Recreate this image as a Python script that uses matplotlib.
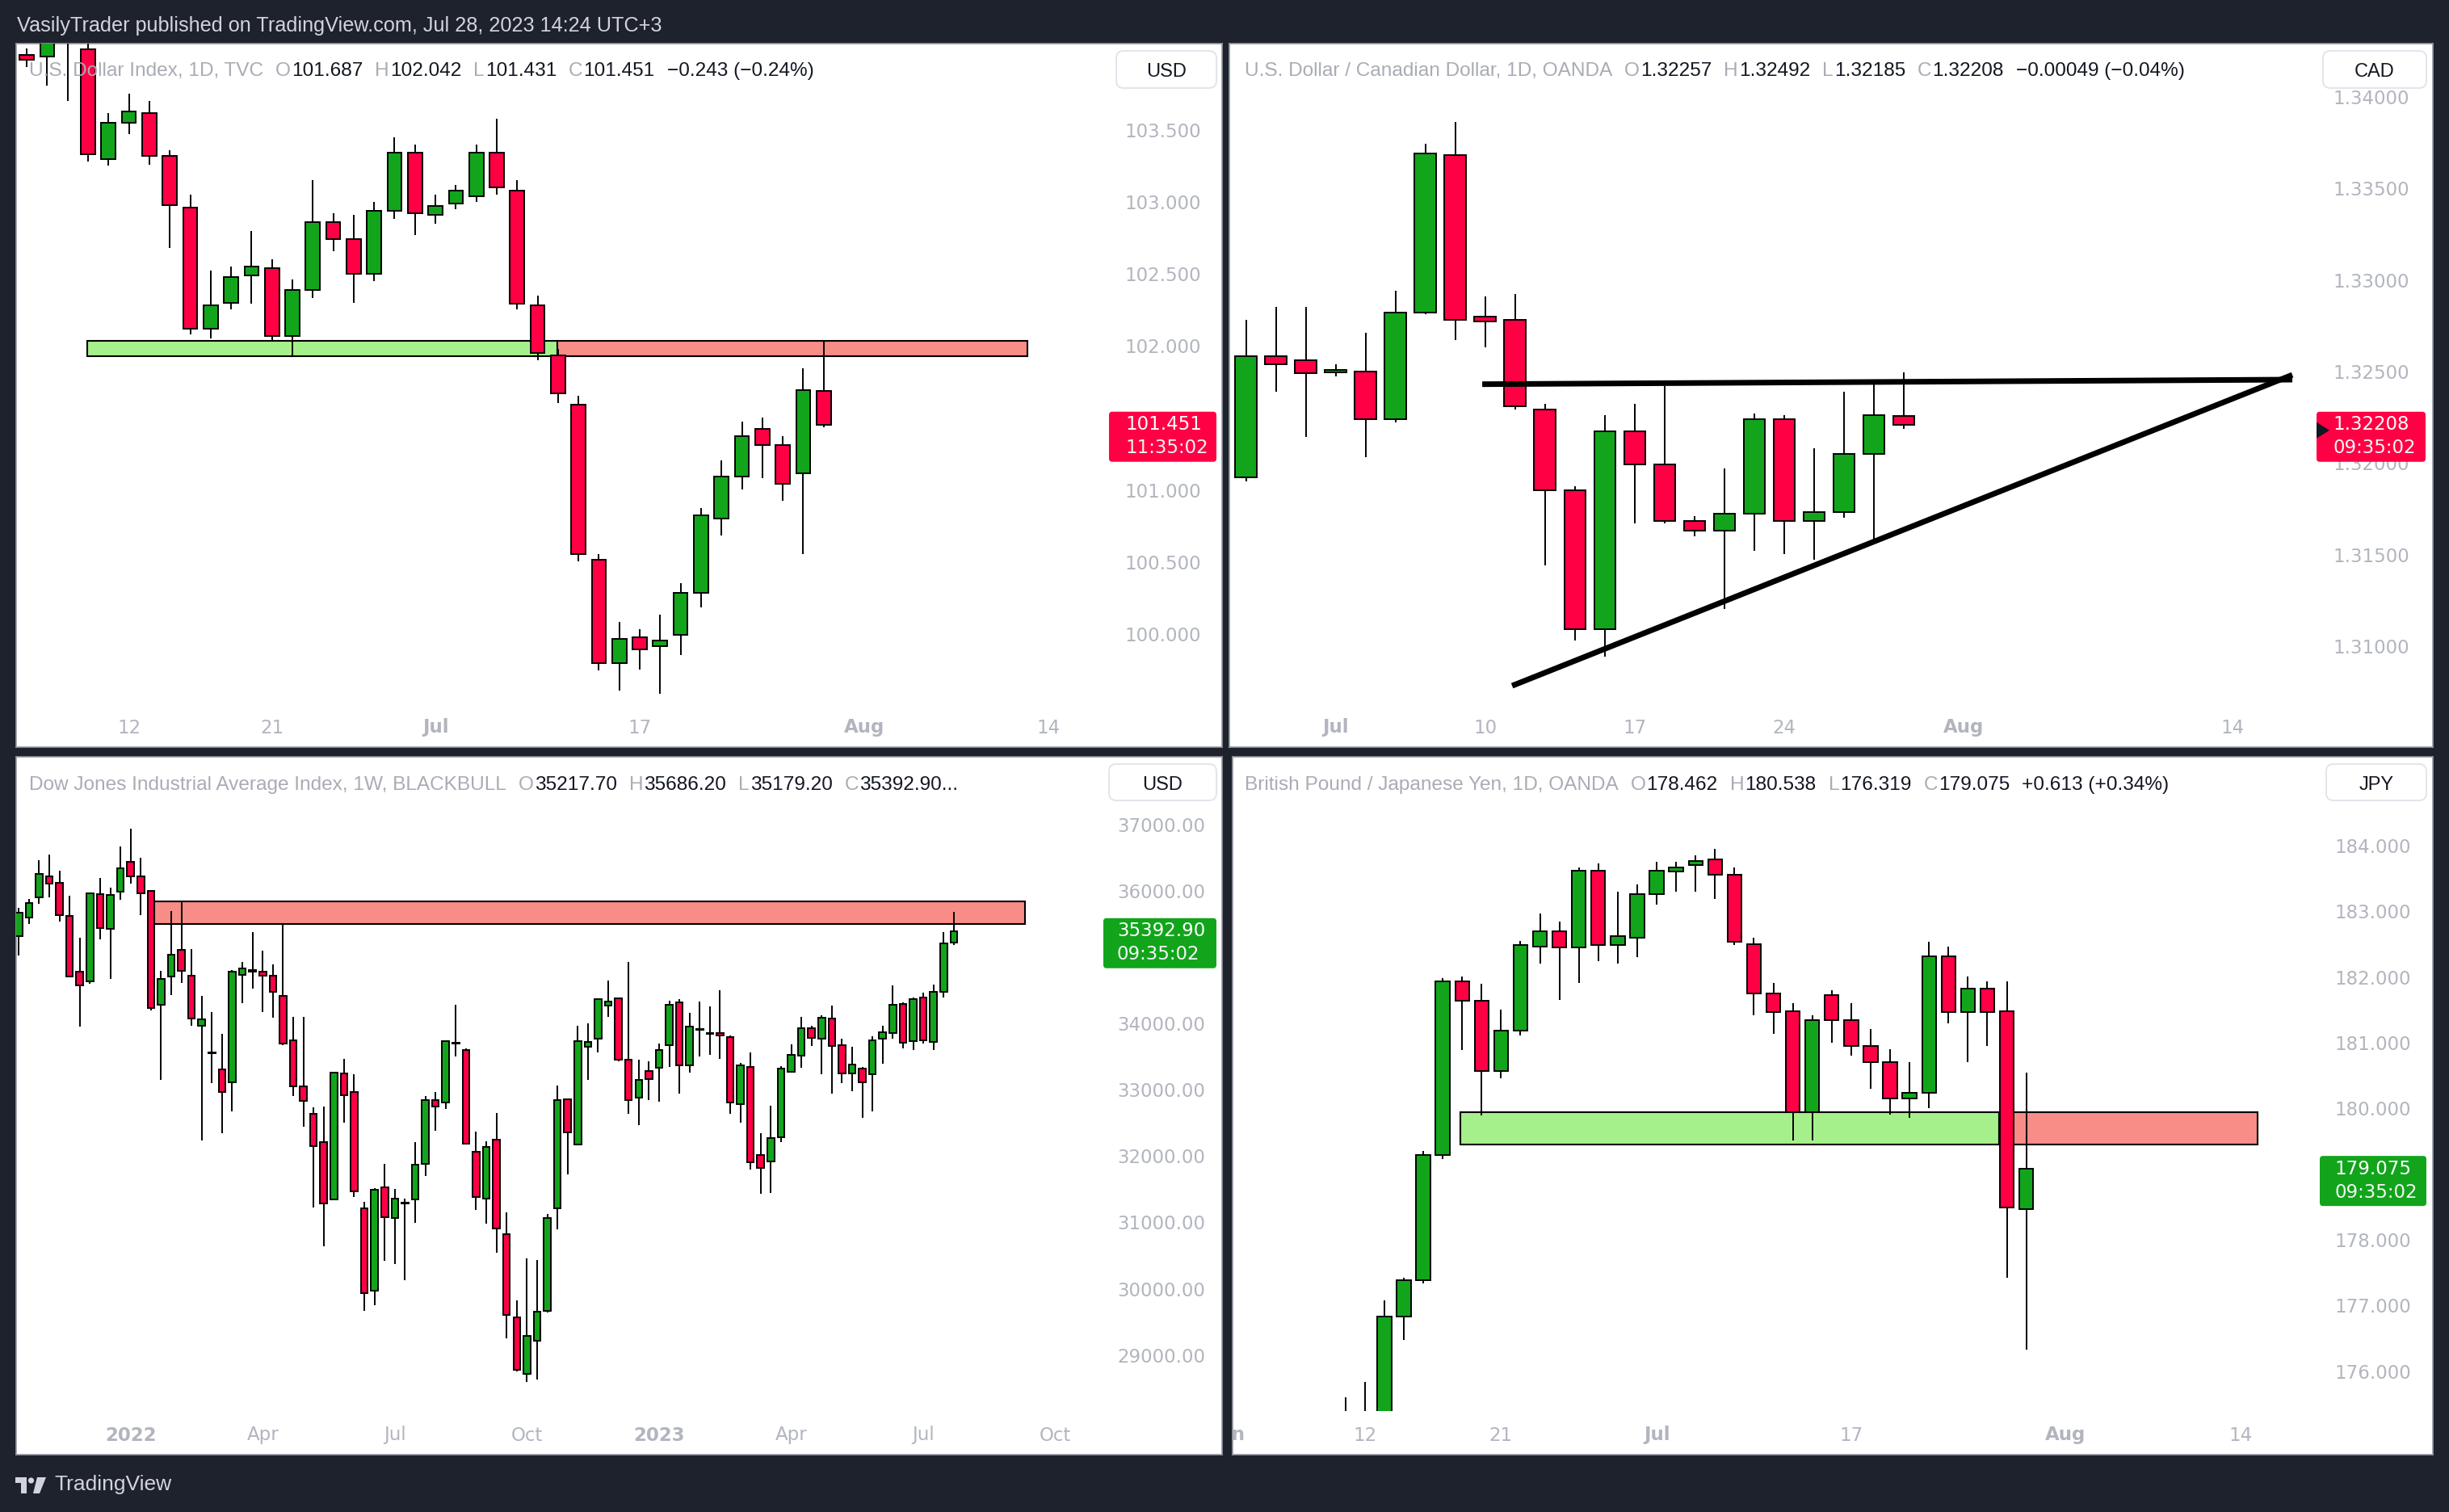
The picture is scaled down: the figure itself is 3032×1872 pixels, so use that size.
import numpy as np
import pandas as pd
import matplotlib
matplotlib.use("Agg")
import matplotlib.pyplot as plt
from matplotlib.patches import FancyBboxPatch, Rectangle, Polygon, Circle
from matplotlib.transforms import IdentityTransform, offset_copy

# ------------------------------------------------------------------ data
# U.S. Dollar Index, 1D, TVC
dxy_axis = ("2023-06-05", "2023-08-25")
dxy_start = "2023-06-05"
dxy_open = [104.02, 104.01, 104.15, 104.06, 103.30, 103.55, 103.62, 103.32, 102.96, 102.12,
            102.30, 102.49, 102.54, 102.07, 102.39, 102.86, 102.74, 102.50, 102.94, 103.34,
            102.91, 102.99, 103.04, 103.34, 103.08, 102.28, 101.93, 101.59, 100.51, 99.79,
            99.97, 99.91, 99.99, 100.28, 100.80, 101.09, 101.42, 101.31, 101.11, 101.687]
dxy_high = [104.07, 104.20, 104.30, 104.10, 103.62, 103.75, 103.70, 103.36, 103.05, 102.52,
            102.55, 102.80, 102.60, 102.46, 103.15, 102.92, 102.91, 103.00, 103.45, 103.40,
            103.05, 103.12, 103.40, 103.58, 103.15, 102.35, 101.98, 101.65, 100.55, 100.08,
            100.03, 100.13, 100.35, 100.87, 101.20, 101.47, 101.50, 101.37, 101.84, 102.042]
dxy_low = [103.94, 103.81, 103.70, 103.28, 103.25, 103.47, 103.26, 102.68, 102.08, 102.05,
           102.25, 102.29, 102.03, 101.93, 102.33, 102.66, 102.30, 102.45, 102.88, 102.77,
           102.85, 102.95, 103.00, 103.05, 102.25, 101.90, 101.60, 100.50, 99.74, 99.60,
           99.75, 99.58, 99.85, 100.18, 100.68, 101.00, 101.08, 100.92, 100.55, 101.431]
dxy_close = [103.99, 104.15, 104.12, 103.33, 103.55, 103.63, 103.32, 102.98, 102.12, 102.28,
             102.48, 102.55, 102.07, 102.39, 102.86, 102.74, 102.50, 102.94, 103.34, 102.92,
             102.97, 103.08, 103.34, 103.10, 102.29, 101.95, 101.67, 100.55, 99.79, 99.96,
             99.89, 99.95, 100.28, 100.82, 101.09, 101.37, 101.31, 101.04, 101.69, 101.451]
dxy_ticks = [100.0, 100.5, 101.0, 102.0, 102.5, 103.0, 103.5]
dxy_tick_dates = ["2023-06-12", "2023-06-21", "2023-07-03", "2023-07-17", "2023-08-01", "2023-08-14"]
dxy_tick_text = ["12", "21", "Jul", "17", "Aug", "14"]
dxy_zones = [(2.97, 25.98, 101.928, 102.036, "#a6f08c"), (25.98, 48.99, 101.928, 102.036, "#f88c87")]

# U.S. Dollar / Canadian Dollar, 1D, OANDA
cad_axis = ("2023-06-28", "2023-08-25")
cad_start = "2023-06-28"
cad_open = [1.3192, 1.3258, 1.3256, 1.32495, 1.3250, 1.3224, 1.3282, 1.3368, 1.3280, 1.3278,
            1.3229, 1.3185, 1.3109, 1.3217, 1.3199, 1.3168, 1.3163, 1.3172, 1.3224, 1.3168,
            1.3173, 1.3205, 1.32257]
cad_high = [1.3278, 1.3285, 1.3285, 1.3254, 1.3271, 1.3294, 1.3374, 1.3386, 1.3291, 1.3292,
            1.3232, 1.3187, 1.3226, 1.3232, 1.3242, 1.3171, 1.3197, 1.3227, 1.3226, 1.3208,
            1.3239, 1.3243, 1.32492]
cad_low = [1.3190, 1.3239, 1.3214, 1.3247, 1.3203, 1.3222, 1.3281, 1.3267, 1.3263, 1.3229,
           1.3144, 1.3103, 1.3094, 1.3167, 1.3167, 1.3160, 1.3120, 1.3152, 1.3150, 1.3147,
           1.3170, 1.3158, 1.32185]
cad_close = [1.3258, 1.3254, 1.3249, 1.32505, 1.3224, 1.3282, 1.3369, 1.3278, 1.3277, 1.3231,
             1.3185, 1.3109, 1.3217, 1.3199, 1.3168, 1.3163, 1.3172, 1.3224, 1.3168, 1.3173,
             1.3205, 1.3226, 1.32208]
cad_ticks = [1.310, 1.315, 1.320, 1.325, 1.330, 1.335, 1.340]
cad_tick_dates = ["2023-07-03", "2023-07-10", "2023-07-17", "2023-07-24", "2023-08-01", "2023-08-14"]
cad_tick_text = ["Jul", "10", "17", "24", "Aug", "14"]
cad_lines = [(7.9, 35.0, 1.32429, 1.32454), (8.9, 35.0, 1.30782, 1.32480)]

# Dow Jones Industrial Average Index, 1W, BLACKBULL
dji_start = "2021-10-18"
dji_weeks = 120
dji_open = [35317, 35599, 35904, 36220, 36117, 35627, 34781, 34632, 35950, 35426,
            35990, 36433, 36214, 35996, 34281, 34706, 35115, 34724, 33958, 33550,
            33308, 33112, 34730, 34810, 34781, 34724, 34419, 33740, 33049, 32640,
            32203, 31346, 33239, 32969, 31213, 29964, 31524, 31058, 31280, 31346,
            31875, 32842, 32807, 33700, 33602, 32065, 31352, 32243, 30822, 29556,
            28710, 29210, 29654, 31207, 32853, 32169, 33642, 33763, 34269, 34373,
            33452, 32882, 33285, 33331, 33676, 34321, 33360, 33905, 33850, 33849,
            33797, 32784, 33337, 32007, 31915, 32284, 33274, 33510, 33930, 33763,
            34079, 33676, 33245, 33320, 33233, 33768, 33855, 34298, 33728, 34384,
            33722, 34476, 35217.70]
dji_high = [35748, 35875, 36468, 36548, 36306, 35932, 35294, 35978, 36197, 36047,
            36669, 36940, 36502, 36010, 34793, 35696, 35840, 35127, 34413, 34166,
            33843, 34800, 34931, 35374, 35092, 34891, 35483, 34102, 34102, 32733,
            32744, 33270, 33458, 33233, 31300, 31518, 31875, 31501, 31357, 32203,
            32899, 32963, 33745, 34281, 33619, 32364, 32215, 32646, 31144, 29815,
            30454, 30425, 31121, 33061, 32870, 33958, 33999, 34367, 34649, 34384,
            34925, 33446, 33429, 33699, 34344, 34367, 34160, 34327, 34252, 34499,
            33815, 33400, 33561, 32341, 32761, 33354, 33682, 34102, 33958, 34120,
            34264, 33768, 33648, 33343, 33803, 33964, 34568, 34321, 34390, 34465,
            34586, 35374, 35686.20]
dji_low = [35023, 35495, 35800, 35904, 35541, 34689, 33947, 34597, 35270, 34666,
           35863, 36111, 35633, 34200, 33141, 34430, 34609, 33958, 32226, 33101,
           32336, 32669, 34304, 34528, 34171, 34091, 33670, 32899, 32445, 31219,
           30632, 31340, 32502, 31380, 29654, 29746, 30413, 30362, 30126, 30983,
           31691, 32376, 32704, 33498, 32170, 31184, 30972, 30540, 29239, 28739,
           28589, 28623, 29640, 30885, 31714, 32160, 33141, 33556, 34102, 33429,
           32640, 32468, 32836, 32813, 33343, 32940, 33262, 33498, 33521, 33469,
           32635, 32497, 31789, 31426, 31438, 32209, 33251, 33325, 33659, 33227,
           32934, 33095, 32980, 32577, 32675, 33394, 33774, 33619, 33602, 33699,
           33602, 34396, 35179.20]
dji_close = [35668, 35811, 36260, 36111, 35633, 34706, 34568, 35967, 35437, 35944,
             36347, 36220, 35961, 34230, 34672, 35040, 34793, 34073, 34056, 33560,
             32963, 34781, 34833, 34781, 34718, 34471, 33690, 33049, 32830, 32146,
             31282, 33262, 32917, 31461, 29924, 31484, 31075, 31357, 31295, 31869,
             32836, 32744, 33728, 33712, 32180, 31380, 32128, 30897, 29596, 28767,
             29280, 29648, 31064, 32842, 32353, 33734, 33722, 34361, 34332, 33452,
             32836, 33147, 33153, 33602, 34286, 33371, 33953, 33918, 33840, 33815,
             32807, 33366, 31904, 31823, 32272, 33320, 33527, 33924, 33780, 34091,
             33659, 33245, 33383, 33112, 33745, 33861, 34286, 33711, 34361, 33745,
             34471, 35201, 35392.90]
dji_ticks = [29000, 30000, 31000, 32000, 33000, 34000, 36000, 37000]
dji_tick_dates = ["2022-01-03", "2022-04-04", "2022-07-04", "2022-10-03",
                  "2023-01-02", "2023-04-03", "2023-07-03", "2023-10-02"]
dji_tick_text = ["2022", "Apr", "Jul", "Oct", "2023", "Apr", "Jul", "Oct"]
dji_tick_bold = [True, False, False, False, True, False, False, False]
dji_zones = [(13.31, 98.99, 35495, 35846, "#f88c87")]

# British Pound / Japanese Yen, 1D, OANDA
gbp_axis = ("2023-06-01", "2023-09-01")
gbp_start = "2023-06-09"
gbp_open = [175.20, 175.30, 175.35, 176.83, 177.38, 179.28, 181.93, 181.63, 180.56, 181.18,
            182.46, 182.69, 182.45, 183.62, 182.48, 182.60, 183.26, 183.60, 183.70, 183.79,
            183.55, 182.50, 181.74, 181.48, 179.94, 181.72, 181.34, 180.94, 180.70, 180.15,
            180.23, 182.31, 181.46, 181.82, 181.48, 178.462]
gbp_high = [175.60, 175.83, 177.07, 177.42, 179.35, 181.98, 182.00, 181.89, 181.50, 182.55,
            182.96, 182.84, 183.67, 183.72, 183.30, 183.40, 183.75, 183.75, 183.85, 183.95,
            183.67, 182.60, 181.90, 181.60, 181.41, 181.80, 181.60, 181.20, 180.90, 180.70,
            182.53, 182.46, 182.00, 181.93, 181.93, 180.538]
gbp_low = [174.90, 175.10, 175.20, 176.47, 177.33, 179.23, 180.89, 179.89, 180.46, 181.10,
           182.20, 181.65, 181.90, 182.24, 182.20, 182.30, 183.10, 183.30, 183.30, 183.19,
           182.48, 181.41, 181.13, 179.51, 179.51, 181.00, 180.80, 180.30, 179.90, 179.85,
           180.00, 181.29, 180.70, 180.94, 177.42, 176.319]
gbp_close = [175.30, 175.35, 176.83, 177.38, 179.28, 181.93, 181.63, 180.56, 181.18, 182.48,
             182.69, 182.45, 183.62, 182.48, 182.62, 183.26, 183.62, 183.67, 183.76, 183.55,
             182.53, 181.74, 181.46, 179.94, 181.34, 181.34, 180.94, 180.70, 180.15, 180.23,
             182.31, 181.46, 181.82, 181.46, 178.49, 179.075]
gbp_ticks = [176, 177, 178, 180, 181, 182, 183, 184]
gbp_tick_dates = ["2023-06-01", "2023-06-12", "2023-06-21", "2023-07-03", "2023-07-17", "2023-08-01", "2023-08-14"]
gbp_tick_text = ["Jun", "12", "21", "Jul", "17", "Aug", "14"]
gbp_zones = [(11.9, 39.6, 179.44, 179.94, "#a6f08c"), (39.6, 52.9, 179.44, 179.94, "#f88c87")]

# ------------------------------------------------------------------ style
W, H = 3032, 1872
BG = "#1e222d"
UP = "#12a51b"
DN = "#ff0044"
GRAY = "#b2b5be"
TITLE = "#a9acb5"
INK = "#131722"
PX = IdentityTransform()
LEG_SIZE = 17.6

fig = plt.figure(figsize=(W / 100, H / 100), dpi=100)
fig.patch.set_facecolor(BG)
rend = fig.canvas.get_renderer()


def make_panel(box, xlim, ylim, scale_x):
    x0, y0, x1, y1 = box
    ax = fig.add_axes([x0 / W, 1 - y1 / H, (x1 - x0) / W, (y1 - y0) / H])
    ax.set_facecolor("white")
    ax.set_xlim(*xlim)
    ax.set_ylim(*ylim)
    ax.set_xticks([])
    ax.set_yticks([])
    for s in ax.spines.values():
        s.set_color("#9598a1")
        s.set_linewidth(1.2)
    # chart pane: everything left of the price scale and above the time scale
    fb = 54 / (y1 - y0)
    clip = Rectangle((0, fb), (scale_x - x0) / (x1 - x0), 1 - fb, transform=ax.transAxes,
                     facecolor="none", edgecolor="none")
    return ax, clip


def draw_candles(ax, clip, x0, o, h, l, c, width):
    o, h, l, c = map(np.asarray, (o, h, l, c))
    x = x0 + np.arange(len(o))
    cols = np.where(c >= o, UP, DN)
    wicks = ax.vlines(x, l, h, color="black", lw=1.4, zorder=3)
    wicks.set_clip_path(clip)
    bars = ax.bar(x, np.abs(c - o), width, bottom=np.minimum(o, c), color=cols,
                  edgecolor="black", linewidth=1.4, zorder=4)
    for b in bars:
        b.set_clip_path(clip)


def draw_zones(ax, clip, zones):
    for xa, xb, lo, hi, col in zones:
        p = ax.add_patch(Rectangle((xa, lo), xb - xa, hi - lo, facecolor=col,
                                   edgecolor="black", lw=1.5, zorder=2))
        p.set_clip_path(clip)


def price_labels(ax, box, ticks, fmt, lx):
    fx = (lx - box[0]) / (box[2] - box[0])
    tr = offset_copy(ax.get_yaxis_transform(), fig=fig, y=-3, units="dots")
    for v in ticks:
        ax.text(fx, v, fmt.format(v), transform=tr, ha="left",
                va="center", color=GRAY, fontsize=16.5, family="DejaVu Sans", clip_on=True, zorder=6)


def time_labels(ax, box, pos, texts, bold, ty):
    fy = (box[3] - ty) / (box[3] - box[1])
    for p, s, b in zip(pos, texts, bold):
        ax.text(p, fy, s, transform=ax.get_xaxis_transform(), ha="center", va="center",
                color=GRAY, fontsize=16.5, family="DejaVu Sans",
                fontweight="bold" if b else "normal", clip_on=True, zorder=6)


def unit_box(x0, y0, x1, y1, s):
    fig.add_artist(FancyBboxPatch((x0, H - y1), x1 - x0, y1 - y0,
                                  boxstyle="round,pad=0,rounding_size=9", transform=PX,
                                  facecolor="white", edgecolor="#e0e3eb", lw=1.3))
    fig.text((x0 + x1) / 2, H - (y0 + y1) / 2 - 3, s, transform=PX, ha="center", va="center",
             color=INK, fontsize=17, family="Liberation Sans")


def last_box(ax, close, x0, x1, col, s1, s2, tx, arrow=False):
    yc = ax.transData.transform((0, close))[1]
    fig.add_artist(FancyBboxPatch((x0, yc - 46), x1 - x0, 62,
                                  boxstyle="round,pad=0,rounding_size=4", transform=PX,
                                  facecolor=col, edgecolor="none"))
    fig.text(tx, yc, s1, transform=PX, ha="left", va="center", color="white",
             fontsize=16.5, family="DejaVu Sans")
    fig.text(tx, yc - 29, s2, transform=PX, ha="left", va="center", color="#f4f4f6",
             fontsize=16.5, family="DejaVu Sans")
    if arrow:
        fig.add_artist(Polygon([(x0, yc + 3), (x0 + 16, yc - 7), (x0, yc - 17)], closed=True,
                               transform=PX, facecolor=INK, edgecolor="none"))


def legend(x, y, title, vals, tail):
    parts = [(title, TITLE, 0)]
    for k, v in zip("OHLC", vals):
        parts += [(k, TITLE, 15), (v, INK, 1)]
    if tail:
        parts.append((tail, INK, 15))
    for s, col, gap in parts:
        x += gap
        t = fig.text(x, H - y, s, transform=PX, ha="left", va="center", color=col,
                     fontsize=LEG_SIZE, family="Liberation Sans")
        x = t.get_window_extent(rend).x1


def positions(axis_dates, tick_dates):
    idx = pd.Index(axis_dates)
    return [idx.get_loc(pd.Timestamp(d)) for d in tick_dates]


# ------------------------------------------------------------------ top left: DXY
box = (20, 54, 1513, 925)
ax, clip = make_panel(box, (-0.52, 58.5), (99.208, 104.101), 1373)
days = pd.bdate_range(*dxy_axis)
draw_zones(ax, clip, dxy_zones)
draw_candles(ax, clip, days.get_loc(pd.Timestamp(dxy_start)), dxy_open, dxy_high, dxy_low, dxy_close, 0.7)
price_labels(ax, box, dxy_ticks, "{:.3f}", 1392)
time_labels(ax, box, positions(days, dxy_tick_dates), dxy_tick_text,
            [t in ("Jul", "Aug") for t in dxy_tick_text], 901)
unit_box(1382, 63, 1506, 109, "USD")
last_box(ax, dxy_close[-1], 1373, 1506, DN, f"{dxy_close[-1]:.3f}", "11:35:02", 1393)
legend(36, 88, "U.S. Dollar Index, 1D, TVC",
       [f"{v:.3f}" for v in (dxy_open[-1], dxy_high[-1], dxy_low[-1], dxy_close[-1])],
       "\u22120.243 (\u22120.24%)")

# ------------------------------------------------------------------ top right: USDCAD
box = (1522, 54, 3012, 925)
ax, clip = make_panel(box, (-0.56, 39.7), (1.30447, 1.34289), 2868)
days = pd.bdate_range(*cad_axis)
draw_candles(ax, clip, days.get_loc(pd.Timestamp(cad_start)), cad_open, cad_high, cad_low, cad_close, 0.72)
for xa, xb, ya, yb in cad_lines:
    ax.plot([xa, xb], [ya, yb], color="black", lw=5, solid_capstyle="butt", zorder=5)
price_labels(ax, box, cad_ticks, "{:.5f}", 2888)
time_labels(ax, box, positions(days, cad_tick_dates), cad_tick_text,
            [t in ("Jul", "Aug") for t in cad_tick_text], 901)
unit_box(2876, 63, 3004, 109, "CAD")
last_box(ax, cad_close[-1], 2868, 3003, DN, f"{cad_close[-1]:.5f}", "09:35:02", 2888, arrow=True)
legend(1541, 88, "U.S. Dollar / Canadian Dollar, 1D, OANDA",
       [f"{v:.5f}" for v in (cad_open[-1], cad_high[-1], cad_low[-1], cad_close[-1])],
       "\u22120.00049 (\u22120.04%)")

# ------------------------------------------------------------------ bottom left: DJI
box = (20, 937, 1513, 1801)
ax, clip = make_panel(box, (-0.26, 118.4), (27488, 38024), 1366)
weeks = pd.date_range(dji_start, periods=dji_weeks, freq="W-MON")
draw_zones(ax, clip, dji_zones)
draw_candles(ax, clip, 0, dji_open, dji_high, dji_low, dji_close, 0.68)
price_labels(ax, box, dji_ticks, "{:.2f}", 1383)
time_labels(ax, box, positions(weeks, dji_tick_dates), dji_tick_text, dji_tick_bold, 1777)
unit_box(1373, 946, 1506, 991, "USD")
last_box(ax, dji_close[-1], 1366, 1506, UP, f"{dji_close[-1]:.2f}", "09:35:02", 1383)
legend(36, 972, "Dow Jones Industrial Average Index, 1W, BLACKBULL",
       [f"{v:.2f}" for v in (dji_open[-1], dji_high[-1], dji_low[-1])] + [f"{dji_close[-1]:.2f}..."],
       "")

# ------------------------------------------------------------------ bottom right: GBPJPY
box = (1526, 937, 3012, 1801)
ax, clip = make_panel(box, (0.2, 61.9), (174.723, 185.349), 2872)
days = pd.bdate_range(*gbp_axis)
draw_zones(ax, clip, gbp_zones)
draw_candles(ax, clip, days.get_loc(pd.Timestamp(gbp_start)), gbp_open, gbp_high, gbp_low, gbp_close, 0.72)
price_labels(ax, box, gbp_ticks, "{:.3f}", 2890)
time_labels(ax, box, positions(days, gbp_tick_dates), gbp_tick_text,
            [t in ("Jun", "Jul", "Aug") for t in gbp_tick_text], 1777)
unit_box(2880, 946, 3004, 991, "JPY")
last_box(ax, gbp_close[-1], 2872, 3004, UP, f"{gbp_close[-1]:.3f}", "09:35:02", 2890)
legend(1541, 972, "British Pound / Japanese Yen, 1D, OANDA",
       [f"{v:.3f}" for v in (gbp_open[-1], gbp_high[-1], gbp_low[-1], gbp_close[-1])],
       "+0.613 (+0.34%)")

# ------------------------------------------------------------------ header / footer
fig.text(21, H - 32, "VasilyTrader published on TradingView.com, Jul 28, 2023 14:24 UTC+3",
         transform=PX, ha="left", va="center", color="#d1d4dc", fontsize=18.2, family="Liberation Sans")
logo = "#d1d4dc"
fig.add_artist(Rectangle((19, H - 1836), 14, 7, transform=PX, facecolor=logo, edgecolor="none"))
fig.add_artist(Rectangle((26, H - 1849), 7, 20, transform=PX, facecolor=logo, edgecolor="none"))
fig.add_artist(Circle((38.5, H - 1833), 3.6, transform=PX, facecolor=logo, edgecolor="none"))
fig.add_artist(Polygon([(46, H - 1829), (57, H - 1829), (49, H - 1849), (41, H - 1849)],
                       transform=PX, facecolor=logo, edgecolor="none"))
fig.text(67, H - 1838, "TradingView", transform=PX, ha="left", va="center", color=logo,
         fontsize=19, family="Liberation Sans")

fig.savefig("out.png", dpi=100, facecolor=fig.get_facecolor())
